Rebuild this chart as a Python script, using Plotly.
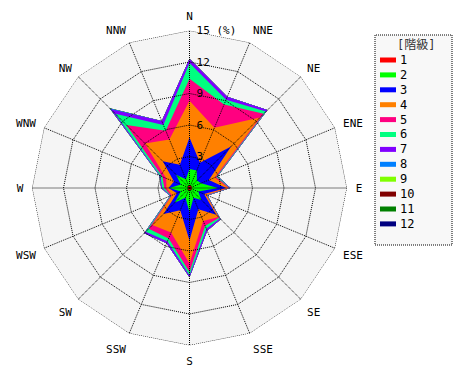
import plotly.graph_objects as go

directions = ["N", "NNE", "NE", "ENE", "E", "ESE", "SE", "SSE",
              "S", "SSW", "SW", "WSW", "W", "WNW", "NW", "NNW"]
class_labels = ["1", "2", "3", "4", "5", "6", "7", "8", "9", "10", "11", "12"]
class_colors = ["#ff0000", "#00ff00", "#0000ff", "#ff8000", "#ff0080", "#00ff80",
                "#8000ff", "#0080ff", "#80ff00", "#800000", "#008000", "#000080"]

# frequency (%) per class and direction (N, NNE, ... NNW)
cls1 = [0.30, 0.25, 0.25, 0.20, 0.30, 0.20, 0.25, 0.20, 0.35, 0.20, 0.25, 0.15, 0.20, 0.15, 0.25, 0.20]
cls2 = [1.50, 1.55, 0.75, 1.00, 2.40, 0.70, 1.35, 0.80, 1.95, 0.80, 1.75, 0.75, 1.70, 0.75, 1.55, 0.70]
cls3 = [3.00, 0.80, 4.60, 0.80, 0.80, 0.60, 2.00, 1.20, 2.70, 1.30, 1.50, 0.40, 0.10, 0.70, 1.80, 1.50]
cls4 = [3.50, 3.60, 3.90, 0.60, 0.20, 0.20, 0.30, 1.20, 2.20, 2.30, 1.50, 0.50, 0.20, 0.80, 2.40, 2.60]
cls5 = [2.10, 2.40, 0.50, 0.15, 0.10, 0.05, 0.10, 0.50, 0.80, 0.60, 0.50, 0.10, 0.20, 0.40, 2.50, 0.90]
cls6 = [1.50, 0.50, 0.30, 0.10, 0.05, 0.05, 0.10, 0.30, 0.30, 0.30, 0.40, 0.05, 0.20, 0.20, 1.50, 0.60]
cls7 = [0.40, 0.30, 0.20, 0.05, 0.05, 0.05, 0.10, 0.20, 0.20, 0.20, 0.20, 0.05, 0.10, 0.10, 0.60, 0.40]
cls8 = [0.00, 0.00, 0.00, 0.00, 0.00, 0.00, 0.00, 0.00, 0.00, 0.00, 0.00, 0.00, 0.00, 0.00, 0.15, 0.00]
cls9 = [0.0] * 16
cls10 = [0.0] * 16
cls11 = [0.0] * 16
cls12 = [0.0] * 16

radial_ticks = [3, 6, 9, 12, 15]
radial_ticktext = ["\u00a03", "\u00a06", "\u00a09", "\u00a012", "\u00a015 (%)"]

all_classes = [cls1, cls2, cls3, cls4, cls5, cls6, cls7, cls8, cls9, cls10, cls11, cls12]

# cumulative (stacked) values
cum = []
run = [0.0] * 16
for c in all_classes:
    run = [a + b for a, b in zip(run, c)]
    cum.append(run)

W, H = 470, 380
FONT = "DejaVu Sans Mono, Noto Sans CJK JP, monospace"

fig = go.Figure()

theta_closed = directions + [directions[0]]
# draw from outermost to innermost
for i in range(len(all_classes) - 1, -1, -1):
    r = cum[i] + [cum[i][0]]
    fig.add_trace(go.Scatterpolar(
        r=r, theta=theta_closed, mode="lines", fill="toself",
        fillcolor=class_colors[i], line=dict(width=0, color=class_colors[i]),
        name=class_labels[i], showlegend=False, hoverinfo="skip"))

# dotted grid drawn above the filled areas
for t in radial_ticks:
    fig.add_trace(go.Scatterpolar(
        r=[t] * 17, theta=theta_closed, mode="lines",
        line=dict(color="black", width=1, dash="1px,1px"),
        showlegend=False, hoverinfo="skip"))
sr, st = [], []
for d in directions:
    sr += [0, radial_ticks[-1], None]
    st += [d, d, None]
fig.add_trace(go.Scatterpolar(
    r=sr, theta=st, mode="lines",
    line=dict(color="black", width=1, dash="1px,1px"),
    showlegend=False, hoverinfo="skip"))

cx, cy, R = 189.5, 188.0, 157.5
fig.update_layout(
    width=W, height=H, margin=dict(l=0, r=0, t=0, b=0),
    paper_bgcolor="white", showlegend=False,
    font=dict(family=FONT, size=11, color="black"),
    polar=dict(
        domain=dict(x=[(cx - R) / W, (cx + R) / W],
                    y=[(H - cy - R) / H, (H - cy + R) / H]),
        bgcolor="#f5f5f5", gridshape="linear",
        angularaxis=dict(type="category", categoryarray=directions,
                         direction="clockwise", rotation=90,
                         showgrid=False, showline=False,
                         ticks="outside", ticklen=6, tickcolor="rgba(0,0,0,0)",
                         tickfont=dict(family=FONT, size=11, color="black")),
        radialaxis=dict(range=[0, 15], showgrid=False, showline=False,
                        tickvals=radial_ticks, ticktext=radial_ticktext,
                        angle=90, tickangle=90, side="clockwise", ticks="",
                        tickfont=dict(family=FONT, size=11, color="black")),
    ),
)

# legend box drawn manually
def px(x):
    return x / W

def py(y):
    return 1 - y / H

fig.add_shape(type="rect", xref="paper", yref="paper",
              x0=px(375), x1=px(452), y0=py(245), y1=py(35),
              line=dict(color="black", width=1, dash="1px,1px"),
              fillcolor="#f8f8f8", layer="below")
fig.add_annotation(xref="paper", yref="paper", x=px(416), y=py(45),
                   text="[階級]", showarrow=False, xanchor="center", yanchor="middle",
                   font=dict(family=FONT, size=12, color="#333333"))
for i, (lab, col) in enumerate(zip(class_labels, class_colors)):
    yc = 60 + i * 14.9
    fig.add_shape(type="rect", xref="paper", yref="paper",
                  x0=px(380), x1=px(396), y0=py(yc + 2.5), y1=py(yc - 2.5),
                  line=dict(width=0), fillcolor=col)
    fig.add_annotation(xref="paper", yref="paper", x=px(398), y=py(yc),
                       text=lab, showarrow=False, xanchor="left", yanchor="middle",
                       font=dict(family=FONT, size=12, color="black"))

fig.write_html("out.html",
               config={"displayModeBar": False, "staticPlot": True},
               post_script="document.body.style.margin='0';document.body.style.padding='0';")
